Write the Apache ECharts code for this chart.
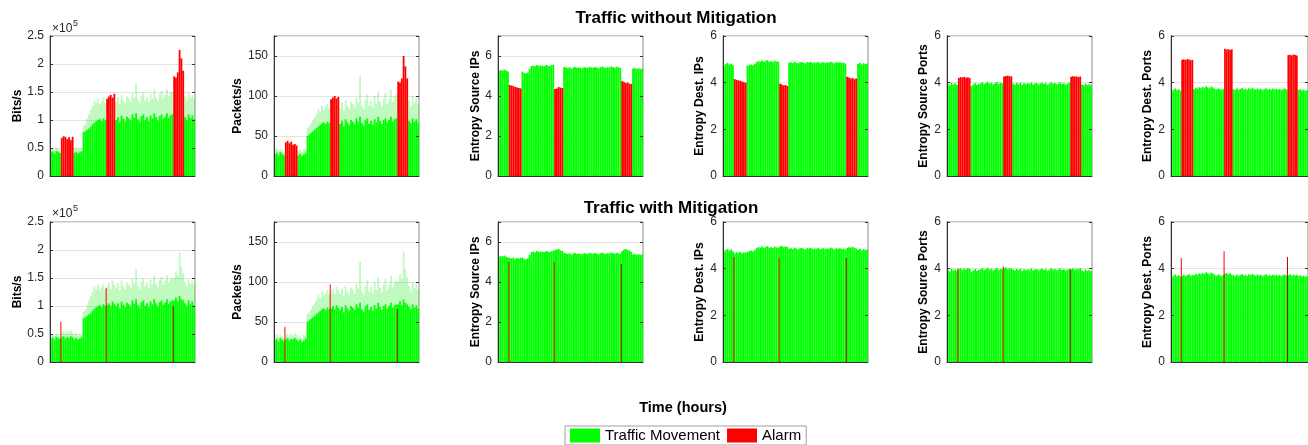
<!DOCTYPE html>
<html><head><meta charset="utf-8">
<script src="https://cdn.jsdelivr.net/npm/echarts@6/dist/echarts.min.js"></script>
<style>html,body{margin:0;padding:0;background:#fff}#c{width:1308px;height:445px}</style>
</head><body><div id="c"></div>
<script>
// time samples (80 slots over the observation period)
const timeSlots = Array.from({length: 80}, (_, i) => String(i));
// alarm windows [first slot, last slot]
const alarmWindows = [[6, 12], [31, 35], [68, 73]];

// Bits/s (x1e5): dense lower envelope and light upper peaks
const bitsHigh = [0.48,0.50,0.47,0.51,0.49,0.46,
  0.52,0.55,0.50,0.56,0.53,0.57,0.52,
  0.49,0.51,0.47,0.50,0.48,
  0.90,0.93,1.02,1.10,1.18,1.25,1.35,1.30,1.38,1.28,1.33,1.40,1.30,
  1.35,1.42,1.30,1.45,1.38,
  1.32,1.40,1.28,1.45,1.35,1.30,1.42,1.38,1.33,1.48,1.40,1.65,1.36,1.30,1.44,1.50,1.35,1.42,1.32,1.47,1.38,1.55,1.40,1.34,1.46,1.52,1.38,1.45,1.55,1.42,1.48,1.50,
  1.50,1.62,1.55,1.95,1.70,1.58,
  1.42,1.35,1.48,1.40,1.45,1.38];
const bitsLow = [0.42,0.44,0.40,0.45,0.43,0.41,
  0.44,0.46,0.42,0.45,0.43,0.46,0.44,
  0.41,0.43,0.40,0.42,0.44,
  0.78,0.80,0.82,0.85,0.88,0.92,0.95,0.98,1.00,1.02,0.98,1.03,1.00,
  1.02,1.05,1.00,1.08,1.04,
  1.00,1.05,0.96,1.08,1.02,0.98,1.06,1.03,0.99,1.10,1.04,1.12,1.01,0.97,1.07,1.10,1.00,1.05,0.98,1.08,1.03,1.12,1.05,0.99,1.07,1.10,1.02,1.06,1.12,1.04,1.08,1.10,
  1.10,1.15,1.08,1.18,1.12,1.10,
  1.05,1.00,1.10,1.03,1.08,1.02];
const bitsAlarm = [[0.68,0.71,0.70,0.66,0.69,0.64,0.70],[1.38,1.42,1.45,1.40,1.47],[1.78,1.76,1.85,2.25,2.10,1.88]];
const bitsSpike = [0.72, 1.32, 1.00];

// Packets/s
const pktHigh = [33,35,31,34,32,30,
  34,36,32,35,33,36,34,
  31,33,30,34,32,
  60,62,66,70,74,78,84,80,88,82,86,90,84,
  88,92,85,95,90,
  85,92,82,95,88,84,93,90,86,98,92,125,88,84,95,102,88,94,86,100,90,106,93,87,97,104,90,96,108,93,99,102,
  100,110,104,138,116,106,
  95,88,100,92,98,90];
const pktLow = [27,29,26,30,28,26,
  28,30,27,29,28,30,28,
  26,28,25,27,29,
  50,52,54,56,58,60,62,64,66,67,65,68,66,
  67,70,66,71,68,
  65,69,62,71,67,64,70,68,65,72,68,74,66,63,70,72,65,69,64,71,67,74,69,65,70,72,67,70,74,68,71,72,
  72,76,71,78,74,72,
  69,66,72,68,71,67];
const pktAlarm = [[42,44,41,43,39,40,38],[96,98,100,97,99],[118,117,122,150,137,122]];
const pktSpike = [44, 97, 66];

// Entropy Source IPs
const srcIP = [5.25,5.30,5.28,5.32,5.27,5.22,
  5.20,5.18,5.22,5.15,5.20,5.17,5.21,
  5.22,5.15,5.12,5.18,5.35,
  5.50,5.52,5.48,5.55,5.50,5.53,5.51,5.49,5.55,5.52,5.50,5.54,5.56,
  5.60,5.63,5.65,5.58,5.55,
  5.45,5.42,5.40,5.44,5.38,5.42,5.45,5.40,5.43,5.41,5.38,5.44,5.42,5.40,5.46,5.43,5.41,5.45,5.42,5.39,5.44,5.47,5.43,5.40,5.45,5.42,5.48,5.44,5.41,5.46,5.43,5.40,
  5.55,5.62,5.65,5.60,5.58,5.50,
  5.38,5.40,5.36,5.39,5.35,5.37];
const srcIPAlarm = [[4.55,4.52,4.50,4.45,4.42,4.40,4.38],[4.35,4.38,4.45,4.42,4.40],[4.75,4.70,4.65,4.68,4.62,4.60]];
const srcIPSpike = [5.0, 5.0, 4.9];

// Entropy Dest. IPs
const dstIP = [4.72,4.80,4.85,4.78,4.82,4.75,
  4.65,4.70,4.68,4.72,4.66,4.70,4.68,
  4.72,4.75,4.78,4.74,4.80,
  4.88,4.92,4.90,4.95,4.89,4.93,4.97,4.90,4.92,4.88,4.94,4.91,4.90,
  4.95,4.98,4.92,4.96,4.93,
  4.85,4.88,4.84,4.90,4.86,4.83,4.87,4.89,4.85,4.82,4.88,4.86,4.90,4.84,4.87,4.85,4.89,4.83,4.86,4.88,4.84,4.87,4.85,4.90,4.86,4.83,4.88,4.85,4.87,4.84,4.86,4.82,
  4.88,4.92,4.90,4.94,4.89,4.86,
  4.80,4.85,4.78,4.83,4.80,4.82];
const dstIPAlarm = [[4.15,4.12,4.10,4.08,4.05,4.02,4.00],[3.95,3.92,3.88,3.90,3.86],[4.25,4.22,4.18,4.20,4.15,4.18]];
const dstIPSpike = [4.5, 4.45, 4.45];

// Entropy Source Ports
const srcPort = [3.95,3.88,4.00,3.92,3.97,3.90,
  3.98,4.02,3.95,4.00,3.96,4.03,3.99,
  3.85,3.92,3.98,3.90,3.95,
  3.97,4.02,3.94,3.99,4.04,3.96,4.00,3.93,3.98,4.03,3.95,4.00,3.97,
  4.02,4.05,3.98,4.03,4.00,
  3.96,3.92,3.99,3.94,4.00,3.90,3.97,3.93,3.98,3.95,4.01,3.92,3.96,3.99,3.93,3.97,4.00,3.94,3.98,3.91,3.96,4.02,3.95,3.99,3.93,3.97,4.01,3.94,3.98,3.92,3.96,4.00,
  3.98,4.02,3.96,4.00,3.97,4.03,
  3.92,3.88,3.96,3.90,3.94,3.89];
const srcPortAlarm = [[4.20,4.24,4.22,4.25,4.21,4.23,4.20],[4.26,4.29,4.30,4.28,4.27],[4.25,4.28,4.26,4.27,4.24,4.26]];
const srcPortSpike = [4.0, 4.1, 3.95];

// Entropy Dest. Ports
const dstPort = [3.62,3.70,3.75,3.68,3.72,3.66,
  3.70,3.74,3.68,3.72,3.76,3.70,3.73,
  3.72,3.78,3.74,3.80,3.76,
  3.82,3.78,3.85,3.80,3.76,3.83,3.79,3.74,3.70,3.75,3.72,3.68,3.73,
  3.78,3.82,3.76,3.80,3.74,
  3.72,3.68,3.75,3.70,3.73,3.77,3.71,3.74,3.69,3.76,3.72,3.78,3.73,3.70,3.75,3.71,3.74,3.68,3.72,3.76,3.70,3.73,3.69,3.75,3.71,3.74,3.70,3.73,3.68,3.72,3.75,3.70,
  3.72,3.76,3.70,3.74,3.71,3.73,
  3.68,3.72,3.66,3.70,3.65,3.69];
const dstPortAlarm = [[4.98,5.00,4.97,5.01,4.99,4.96,4.98],[5.45,5.42,5.44,5.40,5.43],[5.18,5.20,5.17,5.21,5.19,5.16]];
const dstPortSpike = [4.45, 4.75, 4.5];

const FONT = '"Liberation Sans", Arial, Helvetica, sans-serif';
const metrics = [
  {label: 'Bits/s', high: bitsHigh, low: bitsLow, alarm: bitsAlarm, spike: bitsSpike, max: 2.5, interval: 0.5, gap: 26, hideMax: false},
  {label: 'Packets/s', high: pktHigh, low: pktLow, alarm: pktAlarm, spike: pktSpike, max: 175, interval: 50, gap: 30, hideMax: true},
  {label: 'Entropy Source IPs', high: null, low: srcIP, alarm: srcIPAlarm, spike: srcIPSpike, max: 7, interval: 2, gap: 16, hideMax: true},
  {label: 'Entropy Dest. IPs', high: null, low: dstIP, alarm: dstIPAlarm, spike: dstIPSpike, max: 6, interval: 2, gap: 17, hideMax: false},
  {label: 'Entropy Source Ports', high: null, low: srcPort, alarm: srcPortAlarm, spike: srcPortSpike, max: 6, interval: 2, gap: 17, hideMax: false},
  {label: 'Entropy Dest. Ports', high: null, low: dstPort, alarm: dstPortAlarm, spike: dstPortSpike, max: 6, interval: 2, gap: 17, hideMax: false}
];

const lefts = [50, 274, 498, 723, 947, 1171];
const tops = [36, 222];
const W = 145, H = 140;
const N = timeSlots.length;

function inAlarm(i) {
  return alarmWindows.findIndex(w => i >= w[0] && i <= w[1]);
}
function alarmFull(al) {
  return timeSlots.map((_, i) => {
    const k = inAlarm(i);
    return k < 0 ? null : al[k][i - alarmWindows[k][0]];
  });
}
function masked(arr) {
  return arr.map((v, i) => inAlarm(i) < 0 ? v : null);
}

const grid = [], xAxis = [], yAxis = [], series = [];
for (let r = 0; r < 2; r++) {
  metrics.forEach((m, mi) => {
    const g = r * 6 + mi;
    grid.push({left: lefts[mi], top: tops[r], width: W, height: H, show: true,
      borderColor: '#8c8c8c', borderWidth: 1, backgroundColor: '#fff'});
    xAxis.push({type: 'category', gridIndex: g, data: timeSlots, boundaryGap: true, z: 6,
      axisTick: {show: false}, axisLabel: {show: false},
      axisLine: {lineStyle: {color: '#333', width: 1}}, splitLine: {show: false}});
    xAxis.push({type: 'value', gridIndex: g, min: 0, max: N, show: false});
    // main left axis: labels, name, grid lines (drawn under the data)
    yAxis.push({type: 'value', gridIndex: g, min: 0, max: m.max, interval: m.interval, z: 0,
      name: m.label, nameLocation: 'middle', nameGap: m.gap,
      nameTextStyle: {fontWeight: 'bold', fontSize: 12, color: '#000', fontFamily: FONT},
      axisLine: {show: true, lineStyle: {color: '#333'}},
      axisTick: {show: false},
      axisLabel: {margin: 6, fontSize: 12, color: '#262626', fontFamily: FONT, showMaxLabel: !m.hideMax},
      splitLine: {show: true, lineStyle: {color: '#e3e3e3'}}});
    // right axis: inward ticks
    yAxis.push({type: 'value', gridIndex: g, min: 0, max: m.max, interval: m.interval, position: 'right', z: 6,
      axisLine: {show: false}, axisLabel: {show: false},
      axisTick: {show: true, inside: true, length: 3, lineStyle: {color: '#333'}},
      splitLine: {show: false}});
    // left overlay axis: axis line and inward ticks above the data
    yAxis.push({type: 'value', gridIndex: g, min: 0, max: m.max, interval: m.interval, position: 'left', z: 6,
      axisLine: {show: true, lineStyle: {color: '#333'}}, axisLabel: {show: false},
      axisTick: {show: true, inside: true, length: 3, lineStyle: {color: '#333'}},
      splitLine: {show: false}});
    const xi = 2 * g, yi = 3 * g;
    const base = {type: 'bar', xAxisIndex: xi, yAxisIndex: yi, barWidth: '100%', barGap: '-100%', barCategoryGap: '0%', silent: true};
    if (m.high) {
      series.push(Object.assign({}, base, {name: 'peak', data: r === 0 ? masked(m.high) : m.high.slice(),
        itemStyle: {color: 'rgba(0,235,0,0.25)'}}));
    }
    series.push(Object.assign({}, base, {name: 'Traffic Movement', data: r === 0 ? masked(m.low) : m.low.slice(),
      itemStyle: {color: '#00ff00'}}));
    if (r === 0) {
      series.push(Object.assign({}, base, {name: 'Alarm', data: alarmFull(m.alarm), itemStyle: {color: '#ff0000'}}));
    } else {
      alarmWindows.forEach((w, k) => {
        series.push({type: 'line', name: 'Alarm', xAxisIndex: 2 * g + 1, yAxisIndex: yi, silent: true,
          data: [[w[0], 0], [w[0], m.spike[k]]], symbol: 'none', z: 4,
          lineStyle: {color: k === 2 ? '#b00000' : '#ff0000', width: 1}, itemStyle: {color: '#ff0000'}});
      });
    }
  });
}

const graphic = [
  {type: 'text', x: 676, y: 18, style: {text: 'Traffic without Mitigation', font: 'bold 17px ' + FONT, fill: '#000', align: 'center', verticalAlign: 'middle'}},
  {type: 'text', x: 671, y: 208, style: {text: 'Traffic with Mitigation', font: 'bold 17px ' + FONT, fill: '#000', align: 'center', verticalAlign: 'middle'}},
  {type: 'text', x: 683, y: 408, style: {text: 'Time (hours)', font: 'bold 14.5px ' + FONT, fill: '#000', align: 'center', verticalAlign: 'middle'}},
  {type: 'text', x: 52, y: 29, style: {text: '×10', font: '12px ' + FONT, fill: '#262626', align: 'left', verticalAlign: 'middle'}},
  {type: 'text', x: 73, y: 24, style: {text: '5', font: '9px ' + FONT, fill: '#262626', align: 'left', verticalAlign: 'middle'}},
  {type: 'text', x: 52, y: 214, style: {text: '×10', font: '12px ' + FONT, fill: '#262626', align: 'left', verticalAlign: 'middle'}},
  {type: 'text', x: 73, y: 209, style: {text: '5', font: '9px ' + FONT, fill: '#262626', align: 'left', verticalAlign: 'middle'}}
];

const chart = echarts.init(document.getElementById('c'), null, {renderer: 'canvas'});
chart.setOption({
  animation: false,
  backgroundColor: '#fff',
  grid, xAxis, yAxis, series, graphic,
  legend: {data: ['Traffic Movement', 'Alarm'], left: 565, top: 426, icon: 'rect',
    itemWidth: 30, itemHeight: 14, itemGap: 7, padding: [2, 5, 2, 5],
    borderColor: '#a0a0a0', borderWidth: 1, selectedMode: false,
    textStyle: {fontSize: 15, color: '#000', fontFamily: FONT}}
});
</script></body></html>
